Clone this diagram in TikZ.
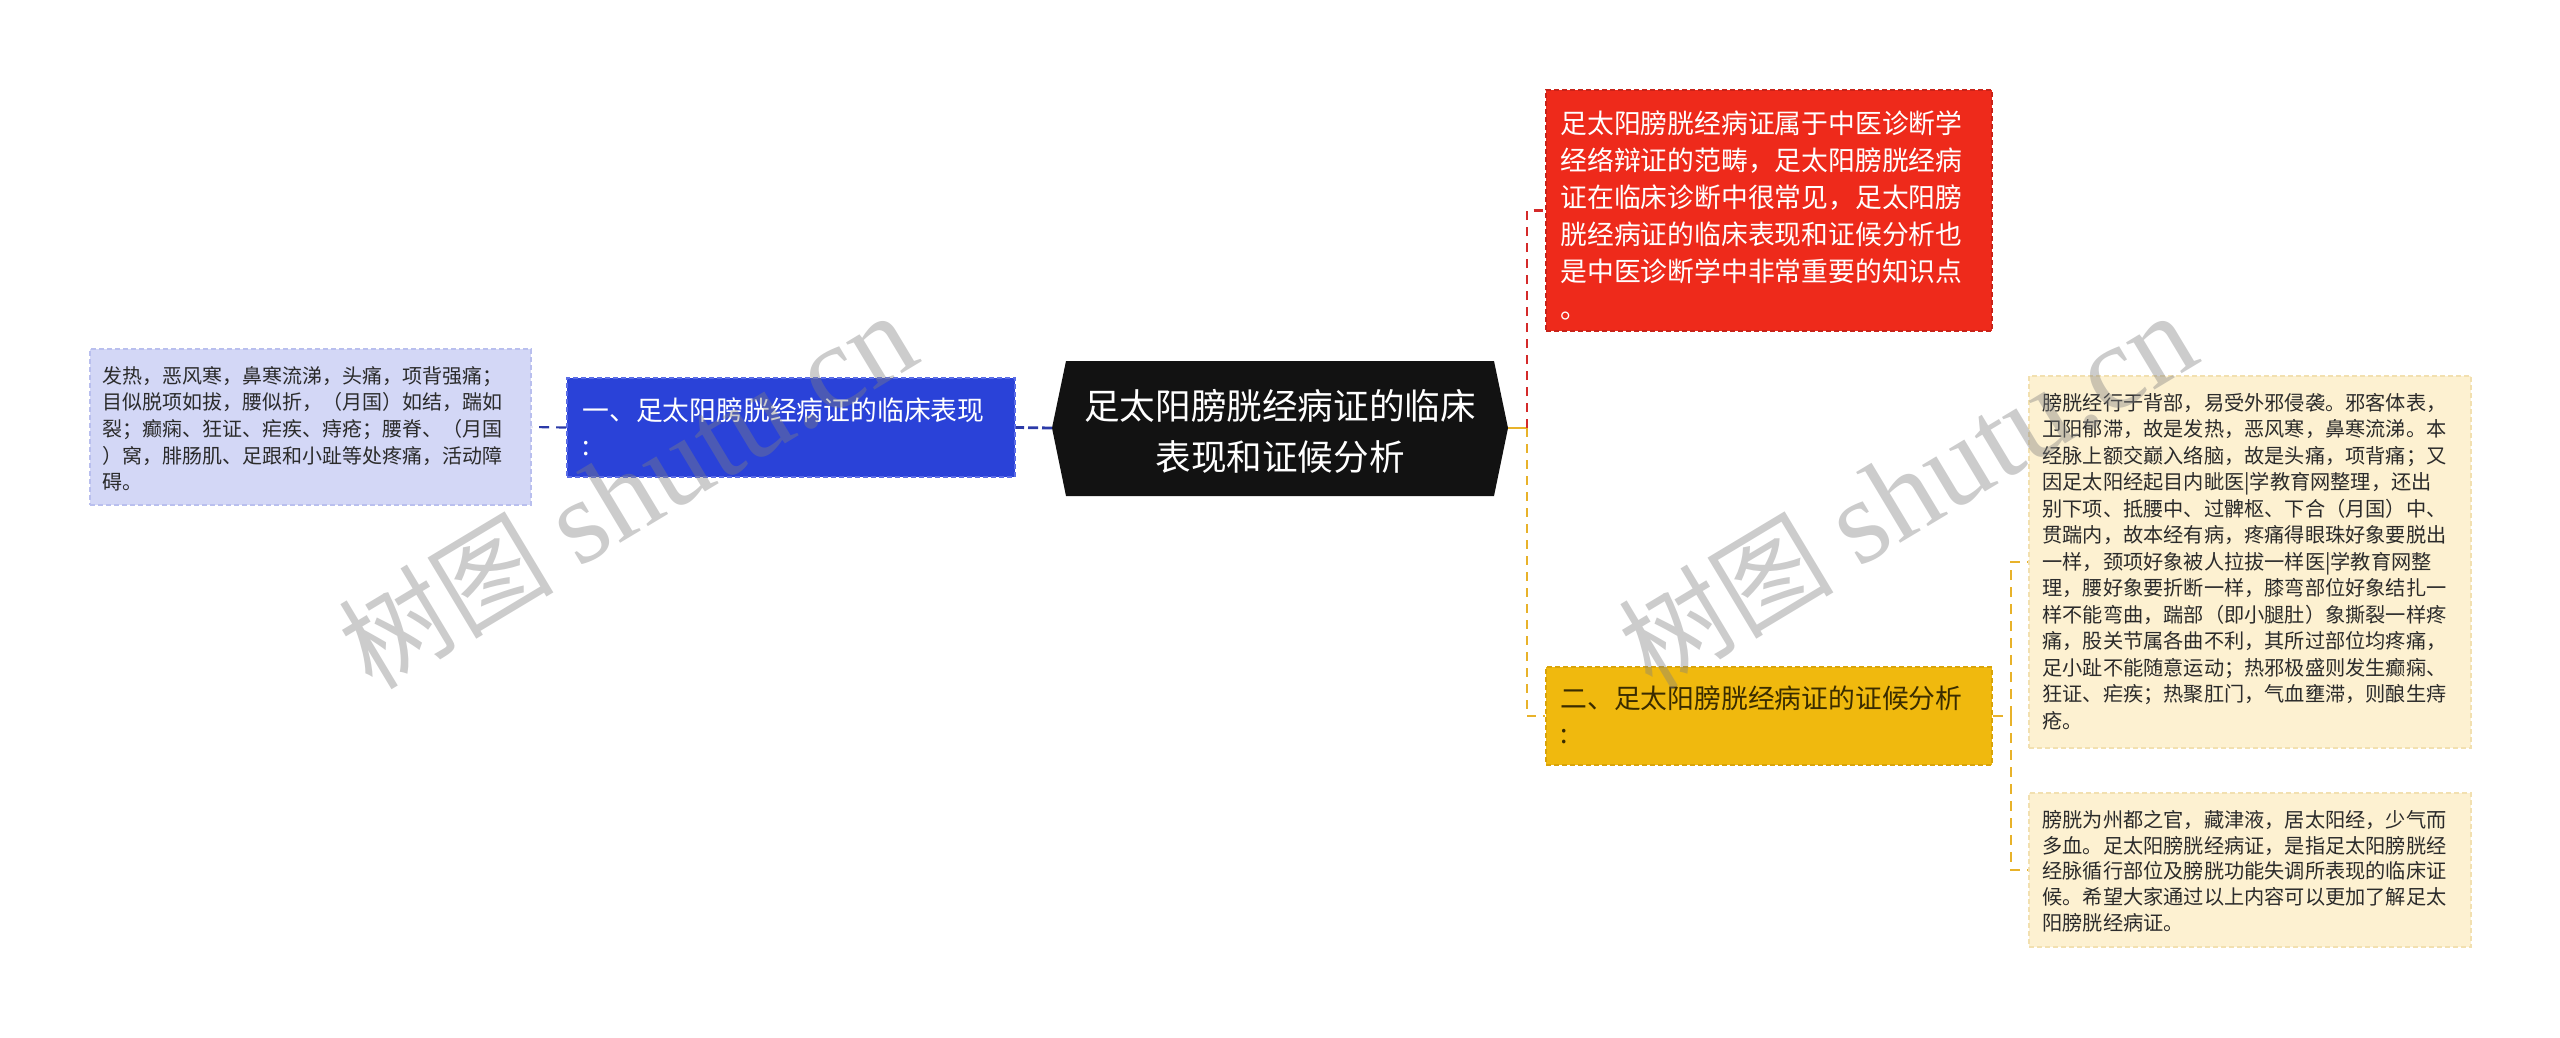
\documentclass[tikz,border=0pt]{standalone}
\usepackage{fontspec}
\setmainfont{Noto Sans CJK SC}
\newfontfamily\wmserif{Liberation Serif}
\definecolor{lavfill}{HTML}{D3D7F6}
\definecolor{lavline}{HTML}{B9BFEE}
\definecolor{bluefill}{HTML}{2A42D8}
\definecolor{blueline}{HTML}{5A6CE6}
\definecolor{bluecon}{HTML}{2B3AA8}
\definecolor{redfill}{HTML}{EE2A1B}
\definecolor{redline}{HTML}{C8231A}
\definecolor{redcon}{HTML}{D42A2A}
\definecolor{yelfill}{HTML}{F0B90E}
\definecolor{yelline}{HTML}{D9A40A}
\definecolor{yelcon}{HTML}{E8B22A}
\definecolor{creamfill}{HTML}{FDF1D1}
\definecolor{creamline}{HTML}{F2E0B0}
\definecolor{darktext}{HTML}{2B2B2B}
\definecolor{yeltext}{HTML}{3A2C00}
\begin{document}
\begin{tikzpicture}[x=0.5pt,y=-0.5pt,
  box/.style={rectangle,inner sep=0pt,line width=0.8pt,dash pattern=on 2.5pt off 1.5pt},
  txt/.style={inner sep=0pt,anchor=base west,align=left},
  con/.style={line width=1.4pt},
  wm/.style={rotate=31,text=black!50,opacity=0.4,inner sep=0pt,anchor=base west,font=\fontsize{54pt}{54pt}\selectfont}]
\useasboundingbox (0,0) rectangle (2560,1038);
\fill[white] (0,0) rectangle (2560,1038);

% boxes
\node[box,fill=lavfill,draw=lavline,minimum width=220.5pt,minimum height=78pt] (lav) at (310.5,427) {};
\node[box,fill=bluefill,draw=blueline,minimum width=224pt,minimum height=49.5pt] (blue) at (791,427.5) {};
\node[box,fill=redfill,draw=redline,minimum width=223pt,minimum height=120.5pt] (red) at (1769,210.5) {};
\node[box,fill=yelfill,draw=yelline,minimum width=223pt,minimum height=49pt] (yel) at (1769,716) {};
\node[box,fill=creamfill,draw=creamline,minimum width=221pt,minimum height=186pt] (cr1) at (2250,562) {};
\node[box,fill=creamfill,draw=creamline,minimum width=221pt,minimum height=77pt] (cr2) at (2250,870) {};

% central hexagon
\fill[black!93] (1052,428) -- (1066,361) -- (1494,361) -- (1508,428) -- (1494,496) -- (1066,496) -- cycle;
\coordinate (cL) at (1052,428);
\coordinate (cR) at (1508,428);
\node[inner sep=0pt,anchor=base,align=center,text=white,font=\fontsize{17.8pt}{25.5pt}\selectfont] (ctr) at (1280,470.5) {足太阳膀胱经病证的临床\\表现和证候分析};

% texts (anchor = baseline of the last line)
\node[txt,text=darktext,font=\fontsize{10pt}{13.35pt}\selectfont] (lavt) at (102,489.8) {发热，恶风寒，鼻寒流涕，头痛，项背强痛；\\目似脱项如拔，腰似折，（月国）如结，踹如\\裂；癫痫、狂证、疟疾、痔疮；腰脊、（月国\\）窝，腓肠肌、足跟和小趾等处疼痛，活动障\\碍。};
\node[txt,text=white,font=\fontsize{13.4pt}{17.5pt}\selectfont] (bluet) at (582,455) {一、足太阳膀胱经病证的临床表现\\:};
\node[txt,text=white,font=\fontsize{13.4pt}{18.5pt}\selectfont] (redt) at (1560,318) {足太阳膀胱经病证属于中医诊断学\\经络辩证的范畴，足太阳膀胱经病\\证在临床诊断中很常见，足太阳膀\\胱经病证的临床表现和证候分析也\\是中医诊断学中非常重要的知识点\\。};
\node[txt,text=yeltext,font=\fontsize{13.4pt}{17.5pt}\selectfont] (yelt) at (1560,743) {二、足太阳膀胱经病证的证候分析\\:};
\node[txt,text=darktext,font=\fontsize{10.1pt}{13.25pt}\selectfont] (cr1t) at (2042,728) {膀胱经行于背部，易受外邪侵袭。邪客体表，\\卫阳郁滞，故是发热，恶风寒，鼻寒流涕。本\\经脉上额交巅入络脑，故是头痛，项背痛；又\\因足太阳经起目内眦医|学教育网整理，还出\\别下项、抵腰中、过髀枢、下合（月国）中、\\贯踹内，故本经有病，疼痛得眼珠好象要脱出\\一样，颈项好象被人拉拔一样医|学教育网整\\理，腰好象要折断一样，膝弯部位好象结扎一\\样不能弯曲，踹部（即小腿肚）象撕裂一样疼\\痛，股关节属各曲不利，其所过部位均疼痛，\\足小趾不能随意运动；热邪极盛则发生癫痫、\\狂证、疟疾；热聚肛门，气血壅滞，则酿生痔\\疮。};
\node[txt,text=darktext,font=\fontsize{10.1pt}{12.8pt}\selectfont] (cr2t) at (2042,930) {膀胱为州都之官，藏津液，居太阳经，少气而\\多血。足太阳膀胱经病证，是指足太阳膀胱经\\经脉循行部位及膀胱功能失调所表现的临床证\\候。希望大家通过以上内容可以更加了解足太\\阳膀胱经病证。};

% connectors
\draw[con,bluecon,dash pattern=on 5pt off 2pt] (cL) -- (blue.east);
\draw[con,bluecon,line width=1.1pt,dash pattern=on 5pt off 3.5pt] (blue.west) -- (lav.east);
\coordinate (jR) at (1527,428);
\draw[con,yelcon] (cR) -- (jR);
\draw[con,redcon,dash pattern=on 4.5pt off 3.5pt] (jR) |- (red.west);
\draw[con,yelcon,dash pattern=on 4.5pt off 3.5pt] (jR) |- (yel.west);
\coordinate (j2) at (2011,716);
\draw[con,yelcon,line width=1pt,dash pattern=on 5pt off 3.5pt] (yel.east) -- (j2);
\draw[con,yelcon,line width=1pt,dash pattern=on 5pt off 3.5pt] (j2) |- (cr1.west);
\draw[con,yelcon,line width=1pt,dash pattern=on 5pt off 3.5pt] (j2) |- (cr2.west);

% watermarks
\node[wm] (wm1) at (372,692) {树图 {\wmserif\fontsize{60pt}{60pt}\selectfont shutu.cn}};
\node[wm] (wm2) at (1652,692) {树图 {\wmserif\fontsize{60pt}{60pt}\selectfont shutu.cn}};
\end{tikzpicture}
\end{document}
